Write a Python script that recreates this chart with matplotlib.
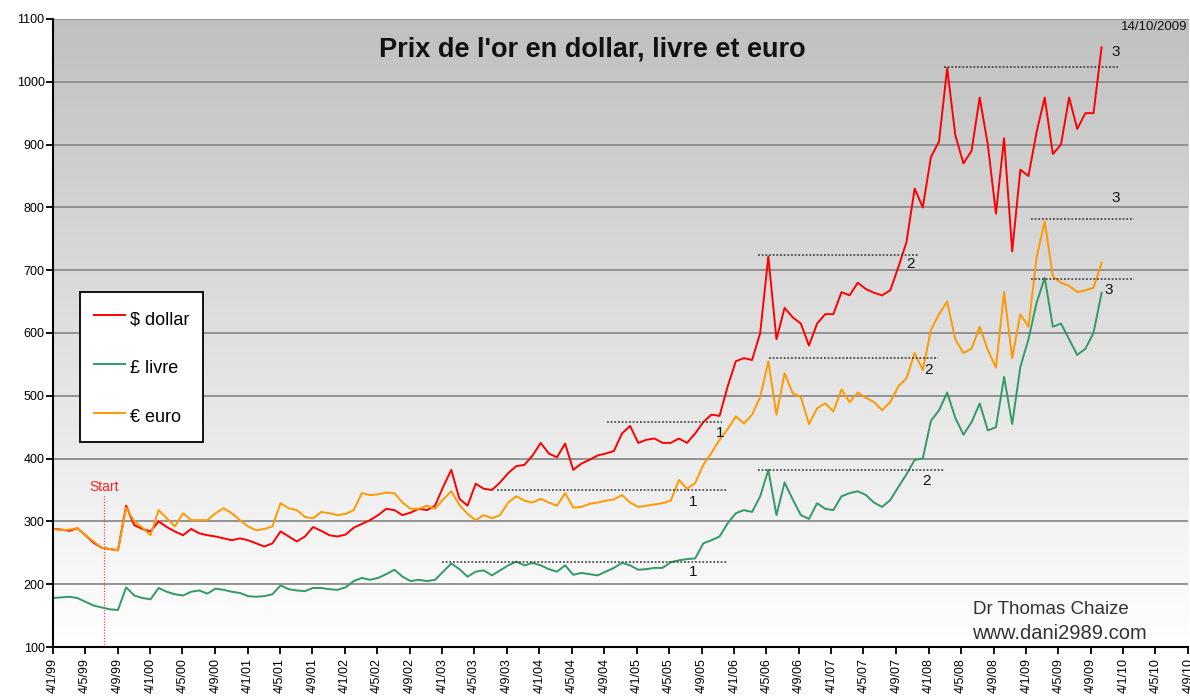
import matplotlib
matplotlib.use('Agg')
import matplotlib.pyplot as plt
from matplotlib.lines import Line2D
import numpy as np
import pandas as pd

plt.rcParams['font.family'] = ['Liberation Sans', 'DejaVu Sans']

# Monthly gold price, Jan 1999 -> 14 Oct 2009
dollar = [288, 287, 285, 289, 278, 266, 258, 256, 254, 325, 294, 288,
          284, 300, 291, 284, 278, 288, 281, 278, 276, 273, 270, 273,
          270, 265, 260, 265, 284, 276, 268, 276, 291, 285, 278, 276,
          279, 290, 296, 302, 310, 320, 318, 310, 314, 320, 318, 325,
          355, 382, 336, 325, 360, 352, 350, 362, 377, 388, 390, 405,
          425, 408, 402, 424, 382, 392, 398, 405, 408, 412, 440, 452,
          425, 430, 432, 425, 425, 432, 425, 440, 458, 470, 468, 515,
          555, 560, 557, 600, 722, 590, 640, 625, 615, 580, 615, 630,
          630, 665, 660, 680, 670, 664, 660, 668, 705, 745, 830, 800,
          880, 905, 1022, 915, 870, 890, 975, 900, 790, 910, 730, 860,
          850, 920, 975, 885, 900, 975, 925, 950, 950, 1055]

livre = [178, 179, 180, 178, 172, 166, 163, 160, 159, 195, 182, 178,
         176, 194, 188, 184, 182, 188, 190, 185, 193, 191, 188, 186,
         181, 180, 181, 184, 198, 192, 190, 189, 194, 194, 192, 191,
         195, 205, 210, 207, 210, 216, 223, 212, 205, 207, 205, 207,
         220, 233, 224, 212, 220, 222, 214, 222, 230, 236, 230, 234,
         230, 224, 220, 230, 215, 218, 216, 214, 220, 226, 234, 230,
         223, 224, 226, 226, 235, 238, 240, 241, 265, 270, 276, 297,
         313, 318, 315, 340, 382, 310, 362, 335, 310, 304, 329, 320,
         318, 340, 345, 348, 342, 330, 323, 334, 355, 375, 398, 400,
         460, 477, 505, 465, 438, 458, 488, 445, 450, 530, 455, 546,
         590, 648, 688, 610, 615, 590, 565, 575, 600, 664]

euro = [288, 286, 287, 289, 278, 268, 258, 256, 254, 322, 300, 290,
        278, 318, 305, 292, 313, 302, 302, 302, 313, 321, 313, 302,
        292, 286, 288, 292, 329, 321, 318, 307, 305, 315, 313, 310,
        312, 318, 345, 342, 343, 346, 345, 330, 320, 320, 325, 320,
        335, 348, 326, 312, 302, 310, 305, 310, 330, 340, 333, 330,
        336, 330, 325, 345, 322, 323, 328, 330, 333, 335, 342, 330,
        323, 325, 327, 329, 333, 366, 352, 361, 390, 409, 430, 447,
        467, 456, 470, 498, 555, 470, 536, 504, 498, 455, 480, 488,
        475, 510, 490, 505, 497, 490, 477, 490, 515, 528, 568, 541,
        605, 630, 650, 590, 568, 575, 610, 573, 545, 665, 560, 630,
        610, 720, 778, 690, 680, 675, 665, 668, 672, 712]

dates = pd.date_range('1999-01-04', '2009-10-14', periods=len(dollar))

# resistance levels: start, end, level, label, label date, label value
levels = [
    ('2004-09-15', '2005-11-20', 458, '1', '2005-11-12', 441),
    ('2003-07-30', '2005-12-10', 350, '1', '2005-08-04', 331),
    ('2003-01-04', '2005-12-10', 236, '1', '2005-08-04', 219),
    ('2006-04-04', '2007-11-25', 724, '2', '2007-10-28', 710),
    ('2006-05-13', '2008-02-07', 560, '2', '2008-01-04', 541),
    ('2006-04-04', '2008-03-07', 382, '2', '2007-12-25', 365),
    ('2008-03-01', '2009-12-15', 1023, '3', '2009-12-05', 1047),
    ('2009-01-22', '2010-02-13', 782, '3', '2009-12-05', 815),
    ('2009-01-22', '2010-02-13', 686, '3', '2009-11-10', 668),
]

start_date = '1999-07-16'

fig = plt.figure(figsize=(11.9, 7.0), dpi=100)
ax = fig.add_axes([0.0445, 0.0757, 0.954, 0.8972])

# grey -> white background gradient
grad = np.linspace(1.0, 192 / 255, 256).reshape(-1, 1, 1) * np.ones((1, 1, 3))
ax.imshow(grad, extent=[0, 1, 0, 1], transform=ax.transAxes, aspect='auto',
          origin='lower', zorder=0)

for v in range(200, 1101, 100):
    ax.axhline(v, color='#8c8c8c', lw=1.3, zorder=1)

ax.plot(dates, dollar, color='#ff0000', lw=1.4, zorder=3)
ax.plot(dates, livre, color='#339966', lw=1.4, zorder=3)
ax.plot(dates, euro, color='#ff9900', lw=1.4, zorder=3)

for d0, d1, lv, lab, ld, lval in levels:
    ax.plot([pd.Timestamp(d0), pd.Timestamp(d1)], [lv, lv], color='#333333',
            lw=1.1, linestyle=(0, (1.2, 1.2)), zorder=4)
    ax.text(pd.Timestamp(ld), lval, lab, fontsize=11, ha='center', va='center',
            color='#111111', zorder=5)

ax.vlines(pd.Timestamp(start_date), 100, 342, color='#ff3333', lw=0.8,
          linestyle=(0, (1, 1.5)), zorder=4)
ax.text(pd.Timestamp(start_date), 354, 'Start', color='#ff2020', fontsize=10,
        ha='center', va='center')

ax.text(0.475, 0.951, "Prix de l'or en dollar, livre et euro", transform=ax.transAxes,
        fontsize=19.5, fontweight='bold', ha='center', va='center', color='#111111')
ax.text(0.999, 0.987, '14/10/2009', transform=ax.transAxes, fontsize=9.5,
        ha='right', va='center', color='#111111')
ax.text(0.81, 0.059, 'Dr Thomas Chaize', transform=ax.transAxes, fontsize=13.5,
        ha='left', va='center', color='#333333')
ax.text(0.81, 0.022, 'www.dani2989.com', transform=ax.transAxes, fontsize=14.5,
        ha='left', va='center', color='#333333')

handles = [Line2D([], [], color='#ff0000', lw=1.4),
           Line2D([], [], color='#339966', lw=1.4),
           Line2D([], [], color='#ff9900', lw=1.4)]
leg = ax.legend(handles, ['$ dollar', '£ livre', '€ euro'], loc='upper left',
                bbox_to_anchor=(0.0238, 0.565), borderaxespad=0, fontsize=13,
                labelspacing=1.42, handlelength=1.67, handleheight=1.6,
                handletextpad=0.28, borderpad=0.8, fancybox=False,
                framealpha=1, edgecolor='black')
leg.get_frame().set_linewidth(1.3)
leg.set_zorder(6)

ticks = pd.date_range('1999-01-01', '2010-09-01', freq='4MS') + pd.Timedelta(days=3)
ax.set_xticks(ticks)
ax.set_xticklabels([f'{d.day}/{d.month}/{d.year % 100:02d}' for d in ticks],
                   rotation=90, fontsize=9)
ax.set_xlim(pd.Timestamp('1999-01-04'), pd.Timestamp('2010-09-04'))
ax.set_ylim(100, 1100)
ax.set_yticks(range(100, 1101, 100))
ax.tick_params(axis='y', labelsize=9, length=5, width=1.3, pad=1)
ax.tick_params(axis='x', length=5, width=1.3, pad=3)

for s in ['top', 'right']:
    ax.spines[s].set_visible(False)
for s in ['left', 'bottom']:
    ax.spines[s].set_linewidth(1.5)
    ax.spines[s].set_zorder(7)

fig.savefig('out.png', dpi=100)
